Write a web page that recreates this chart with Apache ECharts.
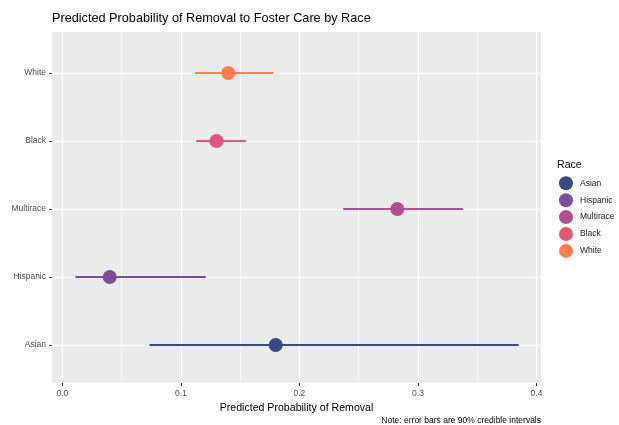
<!DOCTYPE html>
<html>
<head>
<meta charset="utf-8">
<script src="https://cdn.jsdelivr.net/npm/echarts@6/dist/echarts.min.js"></script>
<style>html,body{margin:0;padding:0;background:#fff}#c{width:619px;height:425px}</style>
</head>
<body>
<div id="c"></div>
<script>
// ---- data ----
var races = ['Asian', 'Hispanic', 'Multirace', 'Black', 'White'];
var estimate = [0.180, 0.040, 0.2826, 0.130, 0.140];
var lower = [0.0736, 0.011, 0.237, 0.113, 0.112];
var upper = [0.385, 0.121, 0.338, 0.155, 0.178];
var colors = ['#394A80', '#7A4F9A', '#B1508F', '#E2587A', '#FF7C50'];
var xTicks = [0, 0.1, 0.2, 0.3, 0.4];

var FONT = "'Liberation Sans', Arial, Helvetica, sans-serif";
var xMin = -0.0087, xMax = 0.4038;

var series = [];
races.forEach(function (r, i) {
  series.push({
    name: r + ' interval', type: 'line', xAxisIndex: 2, yAxisIndex: 2,
    data: [[lower[i], r], [upper[i], r]],
    showSymbol: false, symbol: 'none', silent: true,
    lineStyle: { color: colors[i], width: 2 }, z: 3, animation: false
  });
});
races.forEach(function (r, i) {
  series.push({
    name: r, type: 'scatter', xAxisIndex: 2, yAxisIndex: 2,
    data: [[estimate[i], r]], symbol: 'circle', symbolSize: 14,
    itemStyle: { color: colors[i], opacity: 1 }, z: 4, animation: false
  });
});

var chart = echarts.init(document.getElementById('c'), null, { renderer: 'canvas' });
chart.setOption({
  animation: false,
  textStyle: { fontFamily: FONT },
  title: [{
    text: 'Predicted Probability of Removal to Foster Care by Race',
    left: 52, top: 12, padding: 0,
    textStyle: { fontFamily: FONT, fontSize: 12.7, fontWeight: 'normal', color: '#000' }
  }, {
    text: 'Race', left: 557, top: 159.5, padding: 0,
    textStyle: { fontFamily: FONT, fontSize: 10.6, fontWeight: 'normal', color: '#000' }
  }],
  legend: {
    data: races, orient: 'vertical', left: 559, top: 176.3, padding: 0,
    itemWidth: 14, itemHeight: 14, itemGap: 2.9, icon: 'circle',
    textStyle: { fontFamily: FONT, fontSize: 8.5, color: '#1a1a1a', padding: [0, 0, 0, 2] },
    selectedMode: false
  },
  grid: [
    { left: 52, right: 78, top: 32, bottom: 42, show: true, backgroundColor: '#EBEBEB', borderWidth: 0, z: 0 },
    { left: 62.3, right: 82.5, top: 32, bottom: 42 },
    { left: 52, right: 78, top: 73, bottom: 80 }
  ],
  xAxis: [
    { gridIndex: 0, type: 'value', min: xMin, max: xMax,
      axisLine: { show: false, onZero: false }, axisTick: { show: false }, axisLabel: { show: false }, splitLine: { show: false },
      name: 'Predicted Probability of Removal', nameLocation: 'middle', nameGap: 20,
      nameTextStyle: { fontFamily: FONT, fontSize: 10.6, color: '#000' } },
    { gridIndex: 1, type: 'value', min: xTicks[0], max: xTicks[xTicks.length - 1], interval: 0.1,
      axisLine: { show: false, onZero: false },
      axisTick: { show: true, length: 3, lineStyle: { color: '#333', width: 1 } },
      axisLabel: { fontFamily: FONT, fontSize: 8.5, color: '#4D4D4D', margin: 6,
        formatter: function (v) { return v.toFixed(1); } },
      splitLine: { show: true, lineStyle: { color: '#fff', width: 1.1 } },
      minorTick: { show: false, splitNumber: 2 },
      minorSplitLine: { show: true, lineStyle: { color: '#fff', width: 0.55 } } },
    { gridIndex: 2, type: 'value', min: xMin, max: xMax, show: false, axisLine: { onZero: false } }
  ],
  yAxis: [
    { gridIndex: 0, type: 'value', show: false, axisLine: { onZero: false } },
    { gridIndex: 1, type: 'value', show: false, axisLine: { onZero: false } },
    { gridIndex: 2, type: 'category', data: races, boundaryGap: false,
      axisLine: { show: false, onZero: false },
      axisTick: { show: true, length: 3, lineStyle: { color: '#333', width: 1 } },
      axisLabel: { fontFamily: FONT, fontSize: 8.5, color: '#4D4D4D', margin: 6 },
      splitLine: { show: true, lineStyle: { color: '#fff', width: 1.1 } } }
  ],
  graphic: [{
    type: 'text', x: 541, y: 421,
    style: { text: 'Note: error bars are 90% credible intervals', fill: '#000',
      font: '8.5px ' + FONT, textAlign: 'right', textVerticalAlign: 'middle' }
  }],
  series: series
});
</script>
</body>
</html>
